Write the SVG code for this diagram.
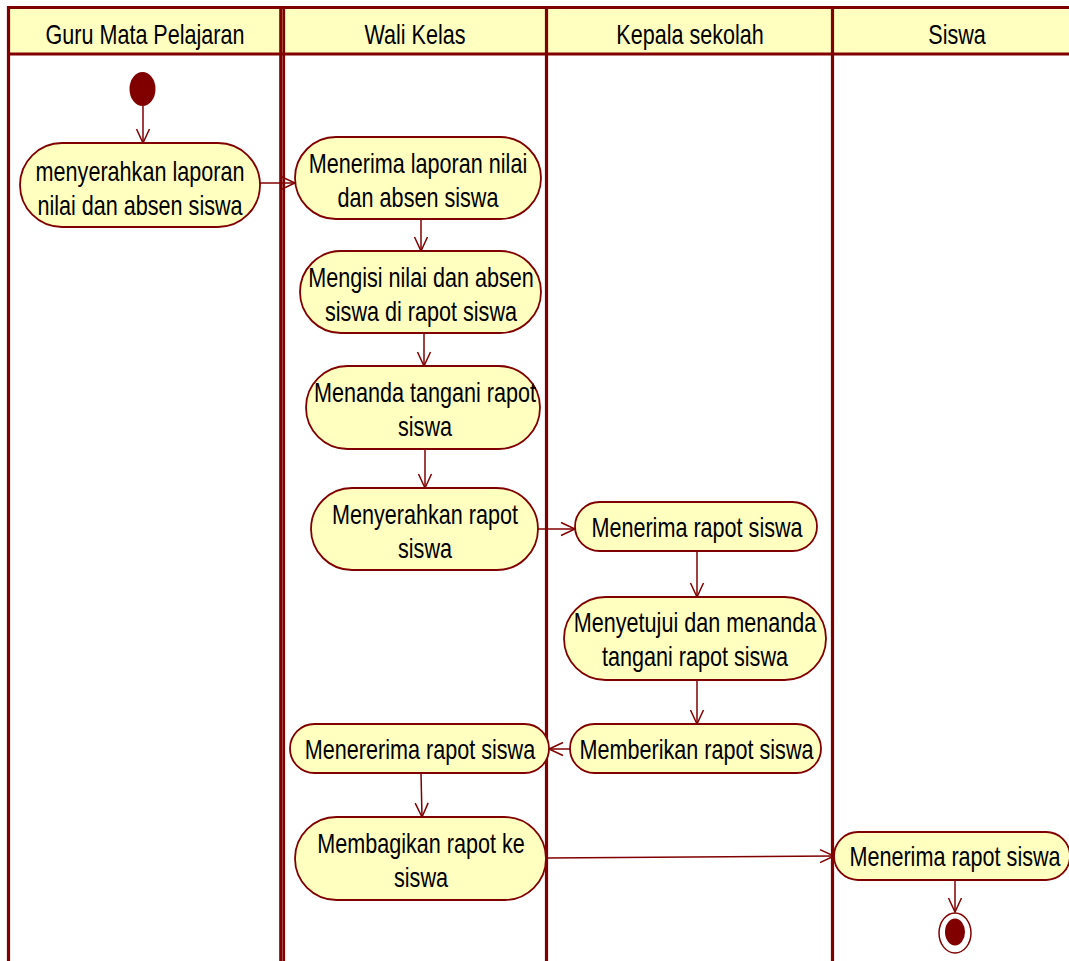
<svg xmlns="http://www.w3.org/2000/svg" width="1069" height="961" viewBox="0 0 1069 961">
  <style>
    .lane { stroke: #800000; stroke-width: 3.2; fill: none; }
    .head { fill: #FFFFC0; stroke: none; }
    .node { fill: #FFFFC0; stroke: #800000; stroke-width: 1.8; }
    .lbl { font-family: "Liberation Sans", Arial, sans-serif; font-size: 27px; fill: #000; text-anchor: middle; }
    .hdr { font-family: "Liberation Sans", Arial, sans-serif; font-size: 28px; fill: #000; text-anchor: middle; }
    .flow { stroke: #800000; stroke-width: 1.5; fill: none; marker-end: url(#open); }
  </style>
  <defs>
    <marker id="open" viewBox="-15 -8 17 16" markerWidth="17" markerHeight="16" refX="0" refY="0" markerUnits="userSpaceOnUse" orient="auto">
      <path d="M-14,-6.5 L0,0 L-14,6.5" fill="none" stroke="#800000" stroke-width="1.5"/>
    </marker>
  </defs>

  <rect width="1069" height="961" fill="#fff"/>

  <!-- swimlanes -->
  <g id="lanes">
    <rect class="head" x="8" y="7.5" width="1061" height="46.5"/>
    <line class="lane" x1="7" y1="7.5" x2="1069" y2="7.5"/>
    <line class="lane" x1="7" y1="54" x2="1069" y2="54"/>
    <line class="lane" x1="8.5" y1="6" x2="8.5" y2="961"/>
    <line class="lane" x1="280.6" y1="6" x2="280.6" y2="961" style="stroke-width:2.8"/>
    <line class="lane" x1="283.7" y1="6" x2="283.7" y2="961" style="stroke-width:2.8"/>
    <line class="lane" x1="546.5" y1="6" x2="546.5" y2="961"/>
    <line class="lane" x1="832.5" y1="6" x2="832.5" y2="961"/>
    <text class="hdr" transform="translate(145,44) scale(0.77,1)">Guru Mata Pelajaran</text>
    <text class="hdr" transform="translate(415,44) scale(0.77,1)">Wali Kelas</text>
    <text class="hdr" transform="translate(690,44) scale(0.77,1)">Kepala sekolah</text>
    <text class="hdr" transform="translate(957,44) scale(0.77,1)">Siswa</text>
  </g>

  <!-- connectors -->
  <g id="connectors">
    <line class="flow" x1="143" y1="106" x2="143" y2="143"/>
    <line class="flow" x1="260" y1="183" x2="295" y2="183"/>
    <line class="flow" x1="421" y1="219" x2="421" y2="251"/>
    <line class="flow" x1="424" y1="333" x2="424" y2="366"/>
    <line class="flow" x1="425" y1="449" x2="425" y2="488"/>
    <line class="flow" x1="538" y1="529" x2="575" y2="529"/>
    <line class="flow" x1="697" y1="551" x2="697" y2="597"/>
    <line class="flow" x1="697" y1="680" x2="697" y2="724"/>
    <line class="flow" x1="570" y1="749" x2="549" y2="749"/>
    <line class="flow" x1="421" y1="773" x2="422" y2="817"/>
    <line class="flow" x1="546" y1="858" x2="834" y2="856"/>
    <line class="flow" x1="955" y1="880" x2="955" y2="912"/>
  </g>

  <g id="start">
    <ellipse cx="142.5" cy="89" rx="13" ry="17" fill="#800000"/>
  </g>

  <g id="n-menyerahkan-laporan">
    <rect class="node" x="20" y="143" width="240" height="84" rx="42" ry="42"/>
    <text class="lbl" transform="translate(140,181) scale(0.8,1)">menyerahkan laporan</text>
    <text class="lbl" transform="translate(140,215) scale(0.8,1)">nilai dan absen siswa</text>
  </g>

  <g id="n-menerima-laporan">
    <rect class="node" x="295" y="137" width="246" height="82" rx="41" ry="41"/>
    <text class="lbl" transform="translate(418,173) scale(0.8,1)">Menerima laporan nilai</text>
    <text class="lbl" transform="translate(418,207) scale(0.8,1)">dan absen siswa</text>
  </g>

  <g id="n-mengisi-nilai">
    <rect class="node" x="300" y="251" width="241" height="82" rx="41" ry="41"/>
    <text class="lbl" transform="translate(421,287) scale(0.8,1)">Mengisi nilai dan absen</text>
    <text class="lbl" transform="translate(421,321) scale(0.8,1)">siswa di rapot siswa</text>
  </g>

  <g id="n-menanda-tangani">
    <rect class="node" x="306" y="366" width="234" height="83" rx="41.5" ry="41.5"/>
    <text class="lbl" transform="translate(425,402) scale(0.8,1)">Menanda tangani rapot</text>
    <text class="lbl" transform="translate(425,436) scale(0.8,1)">siswa</text>
  </g>

  <g id="n-menyerahkan-rapot">
    <rect class="node" x="311" y="488" width="227" height="82" rx="41" ry="41"/>
    <text class="lbl" transform="translate(425,524) scale(0.8,1)">Menyerahkan rapot</text>
    <text class="lbl" transform="translate(425,558) scale(0.8,1)">siswa</text>
  </g>

  <g id="n-kepsek-menerima">
    <rect class="node" x="575" y="502" width="242" height="49" rx="24.5" ry="24.5"/>
    <text class="lbl" transform="translate(697,537) scale(0.8,1)">Menerima rapot siswa</text>
  </g>

  <g id="n-menyetujui">
    <rect class="node" x="564" y="597" width="262" height="83" rx="41.5" ry="41.5"/>
    <text class="lbl" transform="translate(695,632) scale(0.8,1)">Menyetujui dan menanda</text>
    <text class="lbl" transform="translate(695,666) scale(0.8,1)">tangani rapot siswa</text>
  </g>

  <g id="n-memberikan">
    <rect class="node" x="570" y="724" width="251" height="49" rx="24.5" ry="24.5"/>
    <text class="lbl" transform="translate(696.5,759) scale(0.8,1)">Memberikan rapot siswa</text>
  </g>

  <g id="n-walikelas-menerima">
    <rect class="node" x="290" y="724" width="259" height="49" rx="24.5" ry="24.5"/>
    <text class="lbl" transform="translate(420,759) scale(0.8,1)">Menererima rapot siswa</text>
  </g>

  <g id="n-membagikan">
    <rect class="node" x="295" y="817" width="251" height="83" rx="41.5" ry="41.5"/>
    <text class="lbl" transform="translate(421,853) scale(0.8,1)">Membagikan rapot ke</text>
    <text class="lbl" transform="translate(421,887) scale(0.8,1)">siswa</text>
  </g>

  <g id="n-siswa-menerima">
    <rect class="node" x="834" y="832" width="236" height="48" rx="24" ry="24"/>
    <text class="lbl" transform="translate(955,866) scale(0.8,1)">Menerima rapot siswa</text>
  </g>

  <g id="end">
    <ellipse cx="955" cy="933" rx="16" ry="20" fill="#fff" stroke="#800000" stroke-width="1.5"/>
    <ellipse cx="955" cy="932" rx="10" ry="13.5" fill="#800000"/>
  </g>
</svg>
